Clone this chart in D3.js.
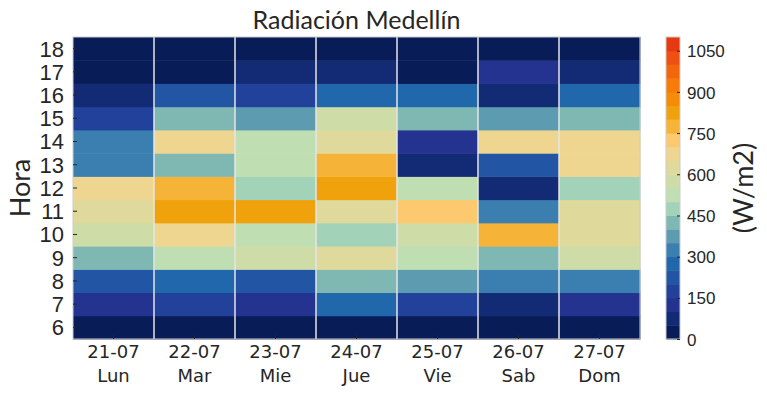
<!DOCTYPE html>
<html>
<head>
<meta charset="utf-8">
<script src="https://cdn.jsdelivr.net/npm/d3@7"></script>
<style>
  body { margin: 0; background: #fff; }
  text { fill: #262626; }
  .xlab, .xlab tspan { font-family: "DejaVu Sans", sans-serif; font-size: 18px; }
</style>
</head>
<body>
<div class="canvas"></div>
<script>
// data
const fechas = ['21-07', '22-07', '23-07', '24-07', '25-07', '26-07', '27-07'];
const dias = ['Lun', 'Mar', 'Mie', 'Jue', 'Vie', 'Sab', 'Dom'];
const horas = [6, 7, 8, 9, 10, 11, 12, 13, 14, 15, 16, 17, 18];
// W/m2 per hour 6..18
const lun = [25, 125, 225, 425, 575, 625, 675, 325, 325, 175, 75, 25, 25];
const mar = [25, 175, 275, 525, 675, 825, 775, 425, 675, 425, 225, 25, 25];
const mie = [25, 125, 225, 575, 525, 825, 475, 525, 525, 375, 175, 75, 25];
const jue = [25, 275, 425, 625, 475, 625, 825, 775, 625, 575, 275, 75, 25];
const vie = [25, 175, 375, 525, 575, 725, 525, 75, 125, 425, 275, 25, 25];
const sab = [25, 75, 325, 425, 775, 325, 75, 225, 675, 375, 75, 125, 25];
const dom = [25, 125, 325, 575, 625, 625, 475, 675, 675, 425, 275, 75, 25];
const cbTicks = [0, 150, 300, 450, 600, 750, 900, 1050];

const series = [lun, mar, mie, jue, vie, sab, dom];

// discrete colormap, 22 bins of 50 W/m2
const binColors = ['#081d58', '#132a74', '#24338f', '#22419a', '#2256a4', '#2167ab',
  '#3a7fb0', '#5d9bb0', '#7fb8b3', '#a2d3b8', '#bfdfb2', '#cedca7', '#dfd99b',
  '#efd690', '#fcc96f', '#f5b437', '#f0a20c', '#f48c08', '#f67b08', '#f4660c',
  '#ee5011', '#e7390f'];

const svg = d3.select('.canvas').append('svg')
    .attr('width', 767)
    .attr('height', 395)
    .style('font-family', 'Lato, sans-serif');

const margin = { left: 73, top: 37, right: 127, bottom: 56 };
const graphWidth = 767 - margin.left - margin.right;
const graphHeight = 395 - margin.top - margin.bottom;

const graph = svg.append('g')
    .attr('transform', `translate(${margin.left},${margin.top})`);

const x = d3.scaleBand().domain(d3.range(fechas.length)).range([0, graphWidth]);
const y = d3.scaleBand().domain(horas).range([graphHeight, 0]);

const color = d3.scaleQuantize().domain([0, 1100]).range(binColors);

const cells = [];
series.forEach((vals, i) => vals.forEach((v, j) => cells.push({ dia: i, hora: horas[j], v })));

graph.selectAll('rect.cell')
    .data(cells)
    .enter().append('rect')
    .attr('class', 'cell')
    .attr('x', d => x(d.dia))
    .attr('y', d => y(d.hora))
    .attr('width', x.bandwidth() + 0.5)
    .attr('height', y.bandwidth() + 0.5)
    .attr('fill', d => color(d.v));

// white separators between days
graph.selectAll('line.sep')
    .data(d3.range(1, fechas.length))
    .enter().append('line')
    .attr('x1', d => x(d)).attr('x2', d => x(d))
    .attr('y1', 0).attr('y2', graphHeight)
    .attr('stroke', '#e6e6e6')
    .attr('stroke-width', 1.5);

graph.append('rect')
    .attr('width', graphWidth).attr('height', graphHeight)
    .attr('fill', 'none').attr('stroke', '#cccccc');

// axes with inward ticks
const yAxis = d3.axisLeft(y).tickSize(-4).tickPadding(9);
const yAxisGroup = graph.append('g').call(yAxis);
yAxisGroup.select('.domain').remove();
yAxisGroup.selectAll('line').attr('stroke', '#262626');
yAxisGroup.selectAll('text').style('font-size', '22px').attr('dy', '0.36em');

const xAxis = d3.axisBottom(x).tickSize(-4).tickFormat(() => '');
const xAxisGroup = graph.append('g')
    .attr('transform', `translate(0,${graphHeight})`)
    .call(xAxis);
xAxisGroup.select('.domain').remove();
xAxisGroup.selectAll('line').attr('stroke', '#262626');

const xLabels = xAxisGroup.selectAll('.tick').append('text')
    .attr('class', 'xlab')
    .attr('text-anchor', 'middle')
    .attr('font-family', '"DejaVu Sans", sans-serif')
    .attr('fill', '#262626');
xLabels.append('tspan').attr('x', 0).attr('y', 19).text(d => fechas[d]);
xLabels.append('tspan').attr('x', 0).attr('y', 43).text(d => dias[d]);

svg.append('text')
    .attr('transform', `translate(30,${margin.top + graphHeight / 2}) rotate(-90)`)
    .attr('text-anchor', 'middle')
    .style('font-size', '27px')
    .text('Hora');

svg.append('text')
    .attr('x', margin.left + graphWidth / 2)
    .attr('y', 29)
    .attr('text-anchor', 'middle')
    .style('font-size', '25px')
    .text('Radiación Medellín');

// colorbar
const cb = svg.append('g').attr('transform', `translate(666,${margin.top})`);
const cbWidth = 14;
const c = d3.scaleLinear().domain([0, 1100]).range([graphHeight, 0]);

cb.selectAll('rect.bin')
    .data(binColors)
    .enter().append('rect')
    .attr('x', 0)
    .attr('y', (d, i) => c((i + 1) * 50))
    .attr('width', cbWidth)
    .attr('height', (d, i) => c(i * 50) - c((i + 1) * 50) + 0.5)
    .attr('fill', d => d);

cb.append('rect')
    .attr('width', cbWidth).attr('height', graphHeight)
    .attr('fill', 'none').attr('stroke', '#cccccc');

const cAxisGroup = cb.append('g')
    .attr('transform', `translate(${cbWidth},0)`)
    .call(d3.axisRight(c).tickValues(cbTicks).tickSize(-3).tickPadding(7).tickFormat(d3.format('d')));
cAxisGroup.select('.domain').remove();
cAxisGroup.selectAll('line').attr('stroke', '#262626');
cAxisGroup.selectAll('text').style('font-size', '17px').attr('dy', '0.36em');

svg.append('text')
    .attr('transform', `translate(753,${margin.top + graphHeight / 2}) rotate(-90)`)
    .attr('text-anchor', 'middle')
    .style('font-size', '27px')
    .text('(W/m2)');
</script>
</body>
</html>
